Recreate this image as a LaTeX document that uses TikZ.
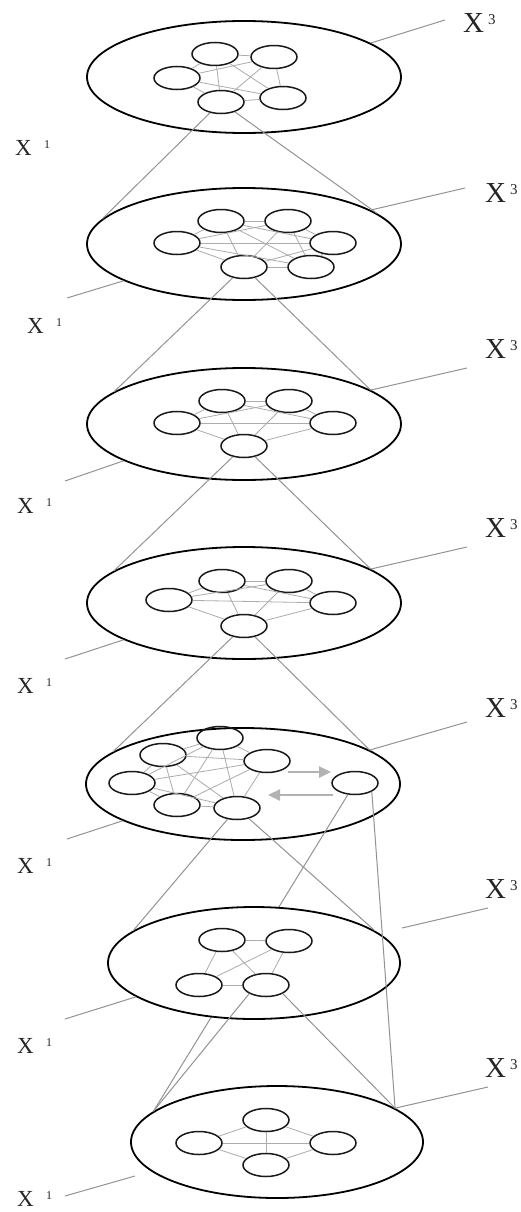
\documentclass[tikz,border=0pt]{standalone}
\usepackage{fontspec}
\setmainfont{Liberation Serif}
\usetikzlibrary{shapes.geometric,arrows.meta}
\newcommand\kgraph[2]{\foreach \i in {1,...,#2}{\foreach \j in {1,...,#2}{\ifnum\i<\j\relax\draw[edge] (n#1\i) -- (n#1\j);\fi}}}
\newcommand\labA[1]{\fontsize{23}{23}\selectfont\makebox[29pt][l]{X}\raisebox{7pt}{\fontsize{12}{12}\selectfont #1}}
\newcommand\labB[1]{\fontsize{29}{29}\selectfont\makebox[25pt][l]{X}\raisebox{8pt}{\fontsize{15}{15}\selectfont #1}}
\begin{document}
\begin{tikzpicture}[x=1pt,y=-1pt,
  big/.style={ellipse,draw=black,line width=1.8pt,minimum width=314pt,minimum height=112pt,inner sep=0pt},
  bigs/.style={big,minimum width=292pt},
  sm/.style={ellipse,draw=black!90,line width=1.5pt,minimum width=46pt,minimum height=23pt,inner sep=0pt},
  edge/.style={draw=gray!65,line width=0.8pt},
  conn/.style={draw=gray!85,line width=1pt},
  lead/.style={draw=gray!85,line width=1pt},
  arr/.style={draw=gray!60,line width=2.4pt,-{Triangle[length=12pt,width=11pt]}},
  lab/.style={anchor=base west,inner sep=0pt,text=black!85}]
\useasboundingbox (0,0) rectangle (520,1212);
\fill[white] (0,0) rectangle (520,1212);
% big ellipses
\node[big] (E1) at (244,77) {};
\node[big] (E2) at (244,244) {};
\node[big] (E3) at (244,424) {};
\node[big] (E4) at (244,603) {};
\node[big] (E5) at (243,784) {};
\node[bigs] (E7) at (277,1142) {};
% layer 1
\node[sm] (n11) at (215,54) {};
\node[sm] (n12) at (274,57) {};
\node[sm] (n13) at (177,78) {};
\node[sm] (n14) at (221,102) {};
\node[sm] (n15) at (283,98) {};
% layer 2
\node[sm] (n21) at (221,221) {};
\node[sm] (n22) at (288,221) {};
\node[sm] (n23) at (177,243) {};
\node[sm] (n24) at (333,243) {};
\node[sm] (n25) at (244,267) {};
\node[sm] (n26) at (311,267) {};
% layer 3
\node[sm] (n31) at (222,401) {};
\node[sm] (n32) at (289,401) {};
\node[sm] (n33) at (177,423) {};
\node[sm] (n34) at (333,423) {};
\node[sm] (n35) at (244,446) {};
% layer 4
\node[sm] (n41) at (222,581) {};
\node[sm] (n42) at (289,581) {};
\node[sm] (n43) at (169,600) {};
\node[sm] (n44) at (333,603) {};
\node[sm] (n45) at (244,626) {};
% layer 5
\node[sm] (n51) at (220,738) {};
\node[sm] (n52) at (163,755) {};
\node[sm] (n53) at (267,761) {};
\node[sm] (n54) at (132,783) {};
\node[sm] (n55) at (177,805) {};
\node[sm] (n56) at (237,808) {};
\node[sm] (n57) at (355,783) {};
% layer 7
\node[sm] (n71) at (266,1120) {};
\node[sm] (n72) at (199,1143) {};
\node[sm] (n73) at (333,1143) {};
\node[sm] (n74) at (266,1165) {};
% long diagonal, hidden behind layer 6
\draw[conn] (n57) -- (E7.166);
% layer 6
\node[bigs,fill=white] (E6) at (254,963) {};
\node[sm] (n61) at (222,940) {};
\node[sm] (n62) at (289,941) {};
\node[sm] (n63) at (199,985) {};
\node[sm] (n64) at (266,985) {};
% internal edges
\kgraph{1}{5}
\kgraph{2}{6}
\kgraph{3}{5}
\kgraph{4}{5}
\kgraph{5}{6}
\kgraph{6}{4}
\kgraph{7}{4}
% connectors between layers
\draw[conn] (n14) -- (E2.170);
\draw[conn] (n14) -- (E2.13);
\draw[conn] (n25) -- (E3.166);
\draw[conn] (n25) -- (E3.15);
\draw[conn] (n35) -- (E4.166);
\draw[conn] (n35) -- (E4.15);
\draw[conn] (n45) -- (E5.166);
\draw[conn] (n45) -- (E5.15);
\draw[conn] (n56) -- (E6.165);
\draw[conn] (n56) -- (E6.15);
\draw[conn] (n57.south east) -- (E7.16);
\draw[conn] (n64.south west) -- (E7.166);
\draw[conn] (n64.south east) -- (E7.16);
% arrows
\coordinate (a1) at (288,772);
\coordinate (a2) at (331,772);
\coordinate (a3) at (333,795);
\coordinate (a4) at (268,795);
\draw[arr] (a1) -- (a2);
\draw[arr] (a3) -- (a4);
% labels X^3
\node[lab] (t31) at (463,33) {\labB{3}};
\node[lab] (t32) at (485,202) {\labB{3}};
\node[lab] (t33) at (485,358) {\labB{3}};
\node[lab] (t34) at (485,537) {\labB{3}};
\node[lab] (t35) at (485,717) {\labB{3}};
\node[lab] (t36) at (485,898) {\labB{3}};
\node[lab] (t37) at (485,1077) {\labB{3}};
% labels X^1
\node[lab] (t11) at (15,155) {\labA{1}};
\node[lab] (t12) at (27,333) {\labA{1}};
\node[lab] (t13) at (17,513) {\labA{1}};
\node[lab] (t14) at (17,693) {\labA{1}};
\node[lab] (t15) at (17,873) {\labA{1}};
\node[lab] (t16) at (17,1053) {\labA{1}};
\node[lab] (t17) at (17,1206) {\labA{1}};
% leader ends
\coordinate (c31) at (445,20);
\coordinate (c32) at (465,188);
\coordinate (c33) at (467,368);
\coordinate (c34) at (467,547);
\coordinate (c35) at (467,722);
\coordinate (c36) at (488,908);
\coordinate (s36) at (402,928);
\coordinate (c37) at (488,1087);
\coordinate (c12) at (67,298);
\coordinate (c13) at (65,481);
\coordinate (c14) at (65,659);
\coordinate (c15) at (67,839);
\coordinate (c16) at (65,1019);
\coordinate (c17) at (65,1196);
\coordinate (s17) at (135,1176);
\draw[lead] (E1.15) -- (c31);
\draw[lead] (E2.15) -- (c32);
\draw[lead] (E3.15) -- (c33);
\draw[lead] (E4.15) -- (c34);
\draw[lead] (E5.15) -- (c35);
\draw[lead] (s36) -- (c36);
\draw[lead] (E7.16) -- (c37);
\draw[lead] (E2.197) -- (c12);
\draw[lead] (E3.197) -- (c13);
\draw[lead] (E4.197) -- (c14);
\draw[lead] (E5.197) -- (c15);
\draw[lead] (E6.196) -- (c16);
\draw[lead] (s17) -- (c17);
\end{tikzpicture}
\end{document}
